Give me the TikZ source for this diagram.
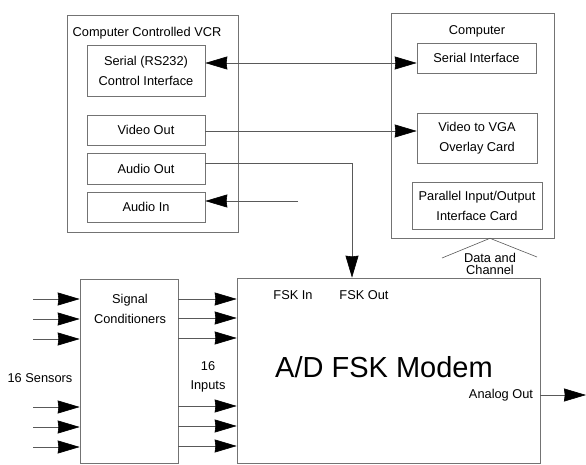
\documentclass[tikz,border=0pt]{standalone}
\usepackage{fontspec}
\setmainfont{Liberation Sans}
\usetikzlibrary{arrows.meta,calc}
\begin{document}
\begin{tikzpicture}[x=1pt,y=-1pt,
  box/.style={draw=black!55, line width=0.6pt, rectangle, inner sep=0pt,
              font=\fontsize{12.8}{19.5}\selectfont, align=center},
  txt/.style={font=\fontsize{12.8}{19.5}\selectfont, align=center, inner sep=0pt},
  conn/.style={draw=black!65, line width=0.6pt},
  tip/.tip={Stealth[length=22pt,width=13pt,inset=0.8pt,color=black]},
  arr/.style={conn, -tip},
  darr/.style={conn, tip-tip}
]
\useasboundingbox (0,0) rectangle (586,465);

% VCR
\node[box, minimum width=171pt, minimum height=217pt] (vcr) at (152.5,123.5) {};
\node[txt] (vcrtitle) at (147,33) {Computer Controlled VCR};
\node[box, minimum width=118pt, minimum height=51pt] (vcrser) at (146,71) {Serial (RS232)\\Control Interface};
\node[box, minimum width=118pt, minimum height=30pt] (vcrvid) at (146,130) {Video Out};
\node[box, minimum width=118pt, minimum height=31pt] (vcraout) at (146,168.5) {Audio Out};
\node[box, minimum width=118pt, minimum height=30pt] (vcrain) at (146,207) {Audio In};

% Computer
\node[box, minimum width=163pt, minimum height=225pt] (comp) at (472.5,125.5) {};
\node[txt] (comptitle) at (477,31) {Computer};
\node[box, minimum width=119pt, minimum height=30pt] (compser) at (476.5,58) {Serial Interface};
\node[box, minimum width=120pt, minimum height=50pt] (vga) at (477,138) {Video to VGA\\Overlay Card};
\node[box, minimum width=130pt, minimum height=47pt] (par) at (477,206) {Parallel Input/Output\\Interface Card};

% Data and channel
\draw[conn] (442,258) -- (comp.south -| 490,0) -- (537,257);
\node[txt, font=\fontsize{12.8}{12.5}\selectfont] (datach) at (490,264) {Data and\\Channel};

% Signal conditioners and modem
\node[box, minimum width=98pt, minimum height=184pt] (sigc) at (129,371) {};
\node[txt] (sigctitle) at (130,309) {Signal\\Conditioners};
\node[box, minimum width=303pt, minimum height=185pt] (modem) at (388.5,370.5) {};
\node[txt, font=\fontsize{29}{34}\selectfont] (modemtitle) at (384,367) {A/D FSK Modem};
\node[txt] (fskin) at (293,295) {FSK In};
\node[txt] (fskout) at (364,295) {FSK Out};
\node[txt] (analog) at (501,395) {Analog Out};
\node[txt] (sensors) at (40,378) {16 Sensors};
\node[txt] (inputs) at (208,377) {16\\Inputs};

% connectors
\draw[darr] (vcrser.east |- 0,63) -- (compser.west |- 0,63);
\draw[arr] (vcrvid.east |- 0,131) -- (vga.west |- 0,131);
\draw[arr] (vcraout.east |- 0,163) -| (modem.north -| 352,0);
\coordinate (ainsrc) at (298,201);
\draw[arr] (ainsrc) -- (vcrain.east |- ainsrc);
\coordinate (anaend) at (586,395);
\draw[arr] (modem.east |- anaend) -- (anaend);

\foreach \yy in {299,319,339,407,427,447}
  \draw[arr] (33,\yy) -- (sigc.west |- 0,\yy);
\foreach \yy in {299,318,338,406,426,446}
  \draw[arr] (sigc.east |- 0,\yy) -- (modem.west |- 0,\yy);
\end{tikzpicture}
\end{document}
